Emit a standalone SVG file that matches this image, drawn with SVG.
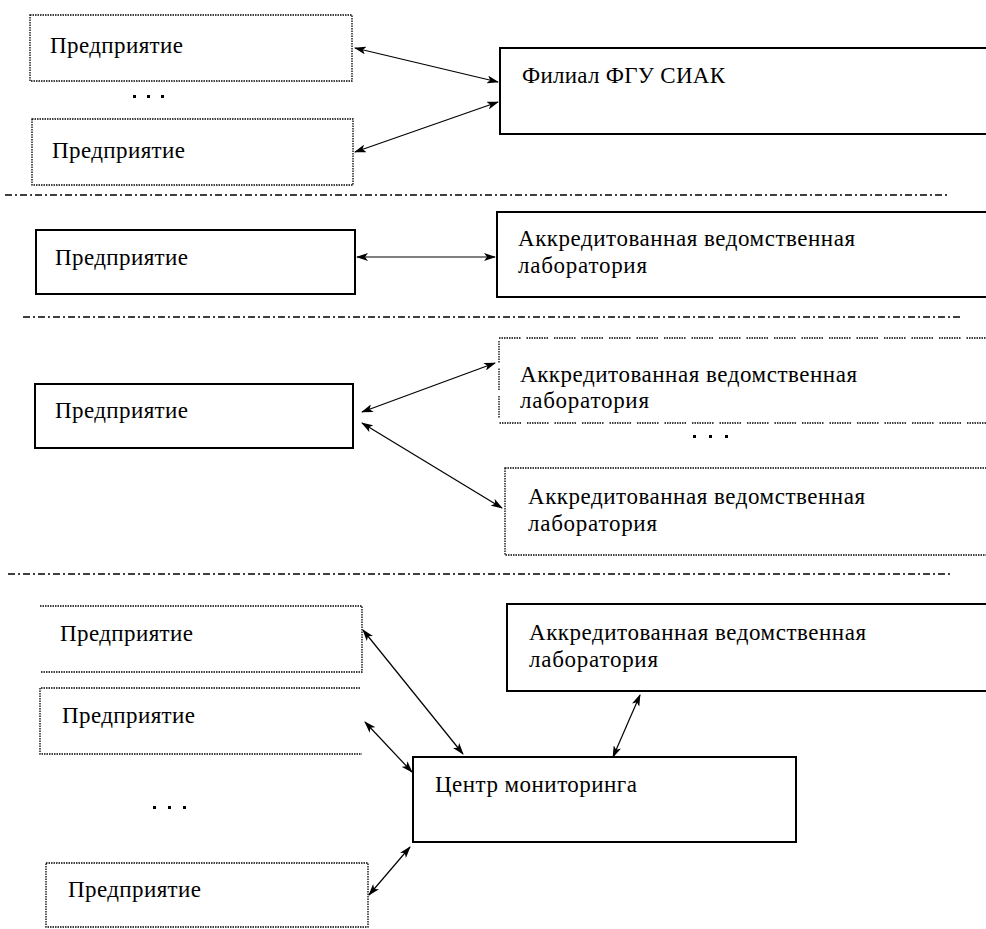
<svg xmlns="http://www.w3.org/2000/svg" width="986" height="929" viewBox="0 0 986 929">
<style>
.solid{fill:#fff;stroke:#000;stroke-width:2}
.dot{fill:none;stroke:#000;stroke-width:1.3;stroke-dasharray:1.5 1}
.sep{fill:none;stroke:#000;stroke-width:1.6;stroke-dasharray:7 3 2 3}
.conn{fill:none;stroke:#000;stroke-width:1.2;marker-start:url(#ah);marker-end:url(#ah)}
.dots{fill:#000}
</style>
<defs>
<marker id="ah" viewBox="0 0 12 8" refX="11" refY="4" markerWidth="12" markerHeight="8" markerUnits="userSpaceOnUse" orient="auto-start-reverse">
<path d="M0,0 L12,4 L0,8 L3,4 Z" fill="#000"/>
</marker>
</defs>

<g id="separators">
<line class="sep" x1="5" y1="195" x2="948" y2="195"/>
<line class="sep" x1="23" y1="317" x2="961" y2="317"/>
<line class="sep" x1="8" y1="574" x2="950" y2="574"/>
</g>

<g id="s1-ent1"><rect class="dot" x="30" y="15" width="322" height="66"/><text style="font-family:'Liberation Serif',serif;font-size:23px" x="50" y="53" textLength="133" lengthAdjust="spacing">Предприятие</text></g>
<g id="s1-ellipsis" class="dots"><rect x="133" y="95" width="3" height="3"/><rect x="147" y="95" width="3" height="3"/><rect x="161" y="95" width="3" height="3"/></g>
<g id="s1-ent2"><rect class="dot" x="32" y="119" width="321" height="66"/><text style="font-family:'Liberation Serif',serif;font-size:23px" x="52" y="158" textLength="133" lengthAdjust="spacing">Предприятие</text></g>
<g id="s1-filial"><rect class="solid" x="500" y="48" width="490" height="86"/><text style="font-family:'Liberation Serif',serif;font-size:23px" x="522" y="83" textLength="203" lengthAdjust="spacing">Филиал ФГУ СИАК</text></g>

<g id="s2-ent"><rect class="solid" x="36" y="230" width="319" height="64"/><text style="font-family:'Liberation Serif',serif;font-size:23px" x="55" y="265" textLength="133" lengthAdjust="spacing">Предприятие</text></g>
<g id="s2-lab"><rect class="solid" x="497" y="212" width="493" height="85"/><text style="font-family:'Liberation Serif',serif;font-size:23px" x="518" y="246" textLength="337" lengthAdjust="spacing">Аккредитованная ведомственная</text><text style="font-family:'Liberation Serif',serif;font-size:23px" x="518" y="273" textLength="129" lengthAdjust="spacing">лаборатория</text></g>

<g id="s3-ent"><rect class="solid" x="35" y="384" width="318" height="64"/><text style="font-family:'Liberation Serif',serif;font-size:23px" x="55" y="418" textLength="133" lengthAdjust="spacing">Предприятие</text></g>
<g id="s3-lab1"><rect class="dot" x="499" y="338" width="491" height="85" style="stroke-dasharray:1.5 1 1.5 1 1.5 1 1.5 1 1.5 1 1.5 1 1.5 1 1.5 1 1.5 6"/><text style="font-family:'Liberation Serif',serif;font-size:23px" x="520" y="382" textLength="337" lengthAdjust="spacing">Аккредитованная ведомственная</text><text style="font-family:'Liberation Serif',serif;font-size:23px" x="520" y="408" textLength="129" lengthAdjust="spacing">лаборатория</text></g>
<g id="s3-ellipsis" class="dots"><rect x="693" y="435" width="3" height="3"/><rect x="709" y="435" width="3" height="3"/><rect x="725" y="435" width="3" height="3"/></g>
<g id="s3-lab2"><rect class="dot" x="505" y="468" width="485" height="87"/><text style="font-family:'Liberation Serif',serif;font-size:23px" x="528" y="504" textLength="337" lengthAdjust="spacing">Аккредитованная ведомственная</text><text style="font-family:'Liberation Serif',serif;font-size:23px" x="528" y="531" textLength="129" lengthAdjust="spacing">лаборатория</text></g>

<g id="s4-ent1"><path class="dot" d="M40,606 H362 V672 H40"/><text style="font-family:'Liberation Serif',serif;font-size:23px" x="60" y="641" textLength="133" lengthAdjust="spacing">Предприятие</text></g>
<g id="s4-ent2"><path class="dot" d="M360,688 H40 V754 H362"/><text style="font-family:'Liberation Serif',serif;font-size:23px" x="62" y="723" textLength="133" lengthAdjust="spacing">Предприятие</text></g>
<g id="s4-ellipsis" class="dots"><rect x="153" y="806" width="3" height="3"/><rect x="168" y="806" width="3" height="3"/><rect x="183" y="806" width="3" height="3"/></g>
<g id="s4-ent3"><rect class="dot" x="46" y="863" width="322" height="64"/><text style="font-family:'Liberation Serif',serif;font-size:23px" x="68" y="897" textLength="133" lengthAdjust="spacing">Предприятие</text></g>
<g id="s4-lab"><rect class="solid" x="507" y="604" width="483" height="87"/><text style="font-family:'Liberation Serif',serif;font-size:23px" x="529" y="640" textLength="337" lengthAdjust="spacing">Аккредитованная ведомственная</text><text style="font-family:'Liberation Serif',serif;font-size:23px" x="529" y="667" textLength="129" lengthAdjust="spacing">лаборатория</text></g>
<g id="s4-center"><rect class="solid" x="413" y="757" width="383" height="85"/><text style="font-family:'Liberation Serif',serif;font-size:23px" x="435" y="792" textLength="202" lengthAdjust="spacing">Центр мониторинга</text></g>

<g id="connectors">
<line class="conn" x1="355" y1="48" x2="498" y2="82"/>
<line class="conn" x1="355" y1="152" x2="498" y2="102"/>
<line class="conn" x1="357" y1="257" x2="495" y2="257"/>
<line class="conn" x1="362" y1="412" x2="495" y2="363"/>
<line class="conn" x1="362" y1="423" x2="502" y2="508"/>
<line class="conn" x1="363" y1="630" x2="463" y2="754"/>
<line class="conn" x1="365" y1="722" x2="412" y2="772"/>
<line class="conn" x1="369" y1="895" x2="410" y2="847"/>
<line class="conn" x1="640" y1="695" x2="613" y2="757"/>
</g>
</svg>
